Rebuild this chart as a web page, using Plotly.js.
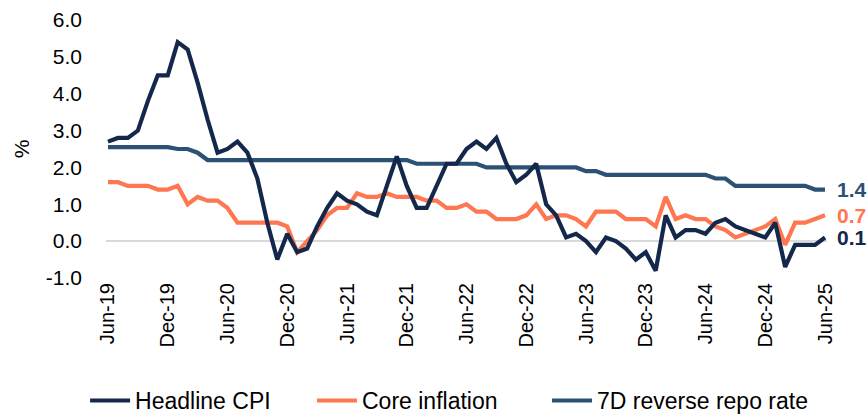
<!DOCTYPE html>
<html>
<head>
<meta charset="utf-8">
<script src="https://cdn.plot.ly/plotly-3.0.1.min.js"></script>
<style>
  html, body { margin: 0; padding: 0; background: #ffffff; }
  #chart { width: 868px; height: 416px; }
</style>
</head>
<body>
<div id="chart"></div>
<script>
// Monthly categories, Jun-19 .. Jun-25
const months = [
  "Jun-19","Jul-19","Aug-19","Sep-19","Oct-19","Nov-19","Dec-19",
  "Jan-20","Feb-20","Mar-20","Apr-20","May-20","Jun-20","Jul-20","Aug-20","Sep-20","Oct-20","Nov-20","Dec-20",
  "Jan-21","Feb-21","Mar-21","Apr-21","May-21","Jun-21","Jul-21","Aug-21","Sep-21","Oct-21","Nov-21","Dec-21",
  "Jan-22","Feb-22","Mar-22","Apr-22","May-22","Jun-22","Jul-22","Aug-22","Sep-22","Oct-22","Nov-22","Dec-22",
  "Jan-23","Feb-23","Mar-23","Apr-23","May-23","Jun-23","Jul-23","Aug-23","Sep-23","Oct-23","Nov-23","Dec-23",
  "Jan-24","Feb-24","Mar-24","Apr-24","May-24","Jun-24","Jul-24","Aug-24","Sep-24","Oct-24","Nov-24","Dec-24",
  "Jan-25","Feb-25","Mar-25","Apr-25","May-25","Jun-25"
];

const headlineCPI = [
  2.7, 2.8, 2.8, 3.0, 3.8, 4.5, 4.5,
  5.4, 5.2, 4.3, 3.3, 2.4, 2.5, 2.7, 2.4, 1.7, 0.5, -0.5, 0.2,
  -0.3, -0.2, 0.4, 0.9, 1.3, 1.1, 1.0, 0.8, 0.7, 1.5, 2.3, 1.5,
  0.9, 0.9, 1.5, 2.1, 2.1, 2.5, 2.7, 2.5, 2.8, 2.1, 1.6, 1.8,
  2.1, 1.0, 0.7, 0.1, 0.2, 0.0, -0.3, 0.1, 0.0, -0.2, -0.5, -0.3,
  -0.8, 0.7, 0.1, 0.3, 0.3, 0.2, 0.5, 0.6, 0.4, 0.3, 0.2, 0.1,
  0.5, -0.7, -0.1, -0.1, -0.1, 0.1
];

const coreInflation = [
  1.6, 1.6, 1.5, 1.5, 1.5, 1.4, 1.4,
  1.5, 1.0, 1.2, 1.1, 1.1, 0.9, 0.5, 0.5, 0.5, 0.5, 0.5, 0.4,
  -0.3, 0.0, 0.3, 0.7, 0.9, 0.9, 1.3, 1.2, 1.2, 1.3, 1.2, 1.2,
  1.2, 1.1, 1.1, 0.9, 0.9, 1.0, 0.8, 0.8, 0.6, 0.6, 0.6, 0.7,
  1.0, 0.6, 0.7, 0.7, 0.6, 0.4, 0.8, 0.8, 0.8, 0.6, 0.6, 0.6,
  0.4, 1.2, 0.6, 0.7, 0.6, 0.6, 0.4, 0.3, 0.1, 0.2, 0.3, 0.4,
  0.6, -0.1, 0.5, 0.5, 0.6, 0.7
];

const repoRate = [
  2.55, 2.55, 2.55, 2.55, 2.55, 2.55, 2.55,
  2.5, 2.5, 2.4, 2.2, 2.2, 2.2, 2.2, 2.2, 2.2, 2.2, 2.2, 2.2,
  2.2, 2.2, 2.2, 2.2, 2.2, 2.2, 2.2, 2.2, 2.2, 2.2, 2.2, 2.2,
  2.1, 2.1, 2.1, 2.1, 2.1, 2.1, 2.1, 2.0, 2.0, 2.0, 2.0, 2.0,
  2.0, 2.0, 2.0, 2.0, 2.0, 1.9, 1.9, 1.8, 1.8, 1.8, 1.8, 1.8,
  1.8, 1.8, 1.8, 1.8, 1.8, 1.8, 1.7, 1.7, 1.5, 1.5, 1.5, 1.5,
  1.5, 1.5, 1.5, 1.5, 1.4, 1.4
];

const seriesNames = ["Headline CPI", "Core inflation", "7D reverse repo rate"];
const yTickVals = [-1, 0, 1, 2, 3, 4, 5, 6];
const yTickText = ["-1.0", "0.0", "1.0", "2.0", "3.0", "4.0", "5.0", "6.0"];

const colors = ["#14284b", "#ff7750", "#2b5275"];
const seriesData = [headlineCPI, coreInflation, repoRate];
const xTickVals = months.filter((m, i) => i % 6 === 0);
const legendIds = ["legend", "legend2", "legend3"];
const legendX = [-0.029, 0.2857, 0.6117];

const traces = seriesData.map((vals, k) => ({
  type: "scatter",
  mode: "lines",
  x: months,
  y: vals,
  name: seriesNames[k],
  legend: legendIds[k],
  line: { color: colors[k], width: 4.2, shape: "linear" },
  hoverinfo: "skip"
}));

const drawOrder = [2, 1, 0];
const data = drawOrder.map(k => traces[k]);

const last = months.length - 1;
const annotations = seriesData.map((vals, k) => ({
  x: months[last],
  y: vals[last],
  xref: "x", yref: "y",
  text: "<b>" + vals[last].toFixed(1) + "</b>",
  showarrow: false,
  xanchor: "left",
  yanchor: "middle",
  xshift: 10,
  font: { family: "Liberation Sans, Arial, sans-serif", size: 21, color: colors[k] }
}));

const legendStyle = (x) => ({
  orientation: "h",
  x: x, xanchor: "left",
  y: -0.475, yanchor: "middle",
  font: { family: "Liberation Sans, Arial, sans-serif", size: 23, color: "#000000" },
  itemwidth: 40,
  bgcolor: "rgba(0,0,0,0)"
});

const layout = {
  width: 868,
  height: 416,
  margin: { l: 106, r: 41, t: 20, b: 138, autoexpand: false },
  paper_bgcolor: "#ffffff",
  plot_bgcolor: "#ffffff",
  showlegend: true,
  legend: legendStyle(legendX[0]),
  legend2: legendStyle(legendX[1]),
  legend3: legendStyle(legendX[2]),
  xaxis: {
    type: "category",
    categoryorder: "array",
    categoryarray: months,
    range: [-0.2, last + 0.2],
    tickmode: "array",
    tickvals: xTickVals,
    ticktext: xTickVals,
    tickangle: -90,
    tickfont: { family: "Liberation Sans, Arial, sans-serif", size: 20, color: "#000000" },
    showgrid: false,
    zeroline: false,
    showline: false,
    ticks: "",
    automargin: false,
    fixedrange: true
  },
  yaxis: {
    range: [-1, 6],
    tickmode: "array",
    tickvals: yTickVals,
    ticktext: yTickText,
    tickfont: { family: "Liberation Sans, Arial, sans-serif", size: 21, color: "#000000" },
    ticklabelstandoff: 23,
    showgrid: false,
    zeroline: true,
    zerolinecolor: "#d9d9d9",
    zerolinewidth: 2,
    showline: false,
    ticks: "",
    automargin: false,
    title: { text: "%", font: { family: "Liberation Sans, Arial, sans-serif", size: 21, color: "#000000" }, standoff: 10 },
    fixedrange: true
  },
  annotations: annotations
};

Plotly.newPlot("chart", data, layout, { displayModeBar: false, staticPlot: true });
</script>
</body>
</html>
